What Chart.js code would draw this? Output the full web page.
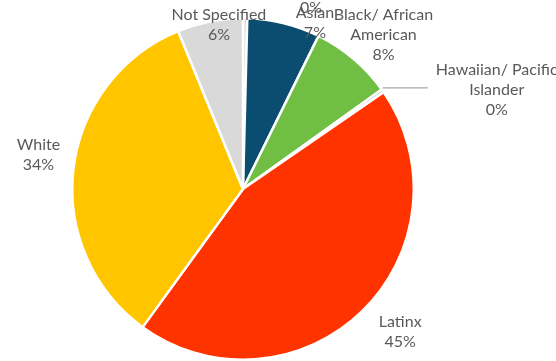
<!DOCTYPE html>
<html>
<head>
<meta charset="utf-8">
<script src="https://cdn.jsdelivr.net/npm/chart.js@4"></script>
<style>
  html, body { margin: 0; padding: 0; background: #ffffff; }
  #wrap { width: 556px; height: 361px; position: relative; }
</style>
</head>
<body>
<div id="wrap"><canvas id="pie" width="556" height="361"></canvas></div>
<script>
// Data
const categories = ['', 'Asian', 'Black/ African American', 'Hawaiian/ Pacific Islander', 'Latinx', 'White', 'Not Specified'];
const shares = [0.4, 6.9, 7.8, 0.3, 44.6, 33.8, 6.2];
const shownPct = ['0%', '7%', '8%', '0%', '45%', '34%', '6%'];
const labelLines = [
  ['0%'],
  ['Asian', '7%'],
  ['Black/ African', 'American', '8%'],
  ['Hawaiian/ Pacific', 'Islander', '0%'],
  ['Latinx', '45%'],
  ['White', '34%'],
  ['Not Specified', '6%']
];
const colors = ['#d6d6d6', '#0b4d70', '#70bf44', '#a6a6a6', '#ff3300', '#ffc600', '#d9d9d9'];

// label placement relative to the slice's outer mid point (dx, dy of first line centre)
const labelOffset = [
  [66, -10],
  [31, -10],
  [30, -44],
  [114, -21],
  [38, 11],
  [-35, -24],
  [9, -7]
];
const lineGap = 20;

const labelPlugin = {
  id: 'sliceLabels',
  afterDraw(chart) {
    const ctx = chart.ctx;
    const arcs = chart.getDatasetMeta(0).data;
    ctx.save();
    ctx.font = '16px Lato';
    ctx.fillStyle = '#595959';
    ctx.textAlign = 'center';
    ctx.textBaseline = 'middle';
    arcs.forEach((arc, i) => {
      const mid = (arc.startAngle + arc.endAngle) / 2;
      const ax = arc.x + Math.cos(mid) * arc.outerRadius;
      const ay = arc.y + Math.sin(mid) * arc.outerRadius;
      const tx = ax + labelOffset[i][0];
      const ty = ay + labelOffset[i][1];
      labelLines[i].forEach((line, k) => {
        ctx.fillText(line, tx, ty + k * lineGap);
      });
      // leader line for the thin Hawaiian slice
      if (i === 3) {
        ctx.strokeStyle = '#a6a6a6';
        ctx.lineWidth = 1.2;
        ctx.beginPath();
        ctx.moveTo(ax, ay - 3);
        ctx.lineTo(ax + 45, ay - 3);
        ctx.stroke();
      }
    });
    ctx.restore();
  }
};

window.onload = () => {
  new Chart(document.getElementById('pie'), {
    type: 'pie',
    data: {
      labels: categories,
      datasets: [{
        data: shares,
        backgroundColor: colors,
        borderColor: '#ffffff',
        borderWidth: 2.5
      }]
    },
    options: {
      responsive: false,
      animation: false,
      layout: { padding: { left: 71, top: 17, right: 141, bottom: 0 } },
      plugins: {
        legend: { display: false },
        tooltip: { enabled: false }
      }
    },
    plugins: [labelPlugin]
  });
};
</script>
</body>
</html>
